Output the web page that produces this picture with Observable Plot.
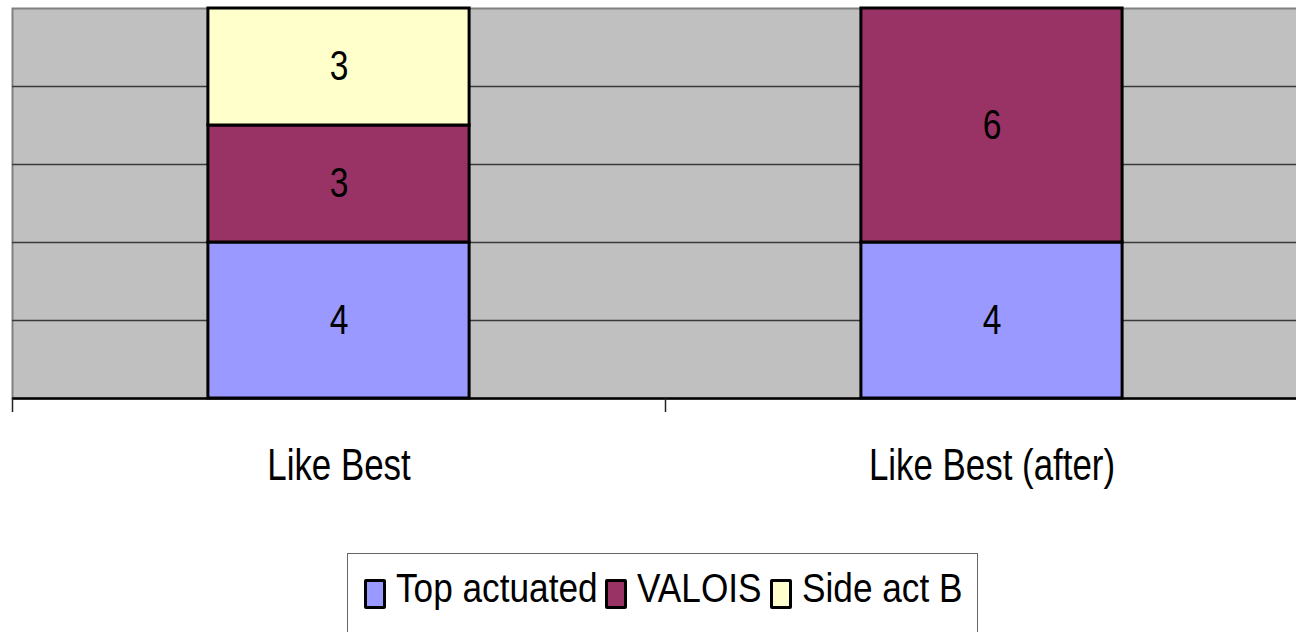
<!DOCTYPE html>
<html>
<head>
<meta charset="utf-8">
<script src="https://cdn.jsdelivr.net/npm/d3@7"></script>
<script src="https://cdn.jsdelivr.net/npm/@observablehq/plot@0.6"></script>
<style>
  html, body { margin: 0; padding: 0; background: #fff; overflow: hidden; width: 1296px; height: 632px; }
  body { font-family: "Liberation Sans", Arial, sans-serif; position: relative; }
  #chart svg { display: block; overflow: hidden; }
  #legend {
    position: absolute; left: 347px; top: 553px; width: 631px; height: 100px;
    border: 1px solid #666; box-sizing: border-box; background: #fff;
    display: flex; justify-content: center; align-items: flex-start; padding-top: 12px; padding-left: 1px;
    font-size: 40px; line-height: normal; color: #000; white-space: nowrap;
  }
  .item { display: flex; align-items: flex-start; margin-right: 8px; }
  .item:last-child { margin-right: 0; }
  .sw { width: 16px; height: 24px; border: 3px solid #000; border-radius: 2px; margin-right: 10px; margin-top: 13px; flex: none; }
  .lt { display: inline-block; overflow: visible; }
  .lt span { display: inline-block; transform-origin: 0 0; }
</style>
</head>
<body>
<div id="chart"></div>
<div id="legend"></div>
<script>
const categories = ["Like Best", "Like Best (after)"];
const series = ["Top actuated", "VALOIS", "Side act B"];
const topActuated = [4, 4];
const valois = [3, 6];
const sideActB = [3, 0];
const colors = ["#9999FF", "#993366", "#FFFFCC"];
const gridValues = [2, 4, 6, 8];
const yDomain = [0, 10];

const seriesValues = [topActuated, valois, sideActB];
const rows = [];
categories.forEach((cat, i) => {
  let base = 0;
  series.forEach((s, j) => {
    const v = seriesValues[j][i];
    if (v > 0) rows.push({cat, idx: i, series: s, value: v, y1: base, y2: base + v});
    base += v;
  });
});

const fontFam = '"Liberation Sans", Arial, sans-serif';
const half = 0.2;

const chart = Plot.plot({
  width: 1296,
  height: 530,
  marginLeft: 12,
  marginRight: -22,
  marginTop: 8,
  marginBottom: 132,
  style: {fontFamily: fontFam, background: "transparent", color: "#000"},
  x: {domain: [0, categories.length], axis: null},
  y: {domain: yDomain, axis: null},
  color: {domain: series, range: colors},
  marks: [
    Plot.frame({fill: "#C0C0C0", stroke: "#808080", strokeWidth: 2}),
    Plot.ruleY(gridValues, {stroke: "#3a3a3a", strokeWidth: 1.5}),
    Plot.rectY(rows, {
      x1: d => d.idx + 0.5 - half, x2: d => d.idx + 0.5 + half,
      y1: "y1", y2: "y2", fill: "series", stroke: "#000", strokeWidth: 3
    }),
    Plot.text(rows, {
      x: d => d.idx + 0.5, y: d => (d.y1 + d.y2) / 2, text: d => String(d.value),
      fontSize: 42, fill: "#000", className: "vlabel"
    }),
    Plot.ruleY([0], {stroke: "#000", strokeWidth: 2.5}),
    Plot.axisX(d3.range(categories.length + 1), {
      tickSize: 14, tickFormat: () => "", stroke: "#222", strokeWidth: 1.5
    }),
    Plot.axisX(categories.map((c, i) => i + 0.5), {
      tickSize: 0, tickPadding: 50, tickFormat: d => categories[Math.floor(d)],
      fontSize: 45, fill: "#000", className: "clabel"
    })
  ]
});
document.getElementById("chart").appendChild(chart);

function squeeze(sel, s) {
  chart.querySelectorAll(sel).forEach(t => {
    const w = t.getComputedTextLength();
    t.setAttribute("textLength", w * s);
    t.setAttribute("lengthAdjust", "spacingAndGlyphs");
  });
}
squeeze(".clabel text", 0.775);
squeeze(".vlabel text", 0.8);

const legend = document.getElementById("legend");
const legendSqueeze = 0.88;
series.forEach((s, j) => {
  const item = document.createElement("div");
  item.className = "item";
  const sw = document.createElement("div");
  sw.className = "sw";
  sw.style.background = colors[j];
  const holder = document.createElement("div");
  holder.className = "lt";
  const t = document.createElement("span");
  t.textContent = s;
  holder.appendChild(t);
  item.appendChild(sw);
  item.appendChild(holder);
  legend.appendChild(item);
  const w = t.getBoundingClientRect().width;
  holder.style.width = (w * legendSqueeze) + "px";
  t.style.transform = "scaleX(" + legendSqueeze + ")";
});
</script>
</body>
</html>
